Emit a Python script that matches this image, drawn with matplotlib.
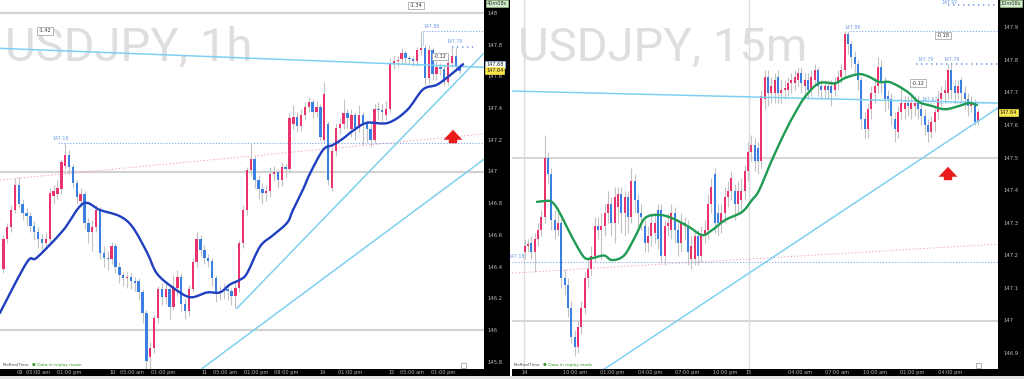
import matplotlib
matplotlib.use("Agg")
import numpy as np
import matplotlib.pyplot as plt
import matplotlib.transforms as mtransforms
from matplotlib.patches import Rectangle, PathPatch
from matplotlib.path import Path

# ---------------- data: USDJPY 1h (left panel) ----------------
h1_open = [146.39, 146.58, 146.65, 146.76, 146.92, 146.80, 146.74, 146.72, 146.66, 146.62,
           146.58, 146.55, 146.58, 146.85, 146.86, 146.89, 147.04, 147.11, 147.03, 146.93,
           146.82, 146.86, 146.68, 146.62, 146.65, 146.76, 146.49, 146.46, 146.45, 146.53,
           146.40, 146.35, 146.33, 146.34, 146.31, 146.31, 146.24, 146.11, 145.83, 145.89,
           146.08, 146.26, 146.21, 146.26, 146.15, 146.27, 146.34, 146.17, 146.12, 146.26,
           146.43, 146.58, 146.51, 146.46, 146.44, 146.33, 146.24, 146.25, 146.26, 146.25,
           146.22, 146.27, 146.55, 146.76, 147.01, 147.08, 146.95, 146.89, 146.87, 146.88,
           146.99, 147.00, 146.95, 147.03, 147.02, 147.30, 147.35, 147.29, 147.36, 147.41,
           147.44, 147.38, 147.41, 147.20, 147.30, 146.90, 147.13, 147.28, 147.30, 147.37,
           147.27, 147.36, 147.28, 147.36, 147.30, 147.27, 147.20, 147.40, 147.39, 147.36,
           147.40, 147.69, 147.70, 147.71, 147.75, 147.72, 147.71, 147.70, 147.77, 147.78,
           147.59, 147.77, 147.62, 147.66, 147.65, 147.57, 147.69, 147.73, 147.67]
h1_close = [146.58, 146.65, 146.76, 146.92, 146.80, 146.74, 146.72, 146.66, 146.62, 146.58,
            146.55, 146.58, 146.87, 146.88, 146.90, 147.06, 147.11, 147.03, 146.93, 146.84,
            146.86, 146.68, 146.62, 146.65, 146.76, 146.49, 146.46, 146.45, 146.53, 146.40,
            146.35, 146.33, 146.34, 146.31, 146.30, 146.24, 146.11, 145.81, 145.89, 146.08,
            146.26, 146.21, 146.26, 146.15, 146.27, 146.34, 146.17, 146.12, 146.26, 146.43,
            146.58, 146.51, 146.46, 146.44, 146.33, 146.24, 146.25, 146.26, 146.25, 146.22,
            146.27, 146.55, 146.76, 147.01, 147.08, 146.95, 146.89, 146.87, 146.88, 146.99,
            147.00, 146.95, 147.03, 147.02, 147.34, 147.35, 147.29, 147.36, 147.41, 147.44,
            147.38, 147.41, 147.22, 147.49, 146.95, 147.13, 147.28, 147.30, 147.37, 147.34,
            147.36, 147.28, 147.36, 147.30, 147.27, 147.20, 147.40, 147.39, 147.38, 147.40,
            147.69, 147.70, 147.70, 147.75, 147.72, 147.71, 147.70, 147.77, 147.78, 147.59,
            147.77, 147.62, 147.66, 147.65, 147.57, 147.69, 147.73, 147.67, 147.64]
h1_high = [146.60, 146.68, 146.79, 146.96, 146.97, 146.83, 146.77, 146.75, 146.69, 146.65,
           146.61, 146.62, 146.90, 146.92, 146.95, 147.08, 147.18, 147.14, 147.05, 146.95,
           146.90, 146.88, 146.71, 146.70, 146.79, 146.78, 146.53, 146.50, 146.56, 146.55,
           146.43, 146.37, 146.37, 146.36, 146.34, 146.33, 146.26, 146.13, 145.93, 146.10,
           146.28, 146.30, 146.31, 146.28, 146.35, 146.38, 146.36, 146.20, 146.29, 146.46,
           146.62, 146.60, 146.54, 146.48, 146.46, 146.35, 146.28, 146.30, 146.29, 146.27,
           146.31, 146.57, 146.79, 147.03, 147.18, 147.10, 146.98, 146.93, 146.92, 147.03,
           147.04, 147.02, 147.06, 147.05, 147.37, 147.42, 147.38, 147.40, 147.44, 147.47,
           147.46, 147.45, 147.43, 147.57, 147.32, 147.16, 147.31, 147.34, 147.46, 147.40,
           147.40, 147.38, 147.42, 147.38, 147.33, 147.30, 147.43, 147.44, 147.43, 147.45,
           147.72, 147.74, 147.73, 147.78, 147.77, 147.74, 147.73, 147.79, 147.89, 147.80,
           147.80, 147.79, 147.70, 147.69, 147.68, 147.72, 147.79, 147.79, 147.69]
h1_low = [146.36, 146.55, 146.62, 146.74, 146.78, 146.70, 146.66, 146.62, 146.57, 146.52,
          146.50, 146.52, 146.56, 146.80, 146.83, 146.86, 147.02, 146.99, 146.90, 146.80,
          146.78, 146.64, 146.55, 146.50, 146.62, 146.45, 146.40, 146.38, 146.42, 146.36,
          146.30, 146.28, 146.27, 146.26, 146.25, 146.19, 146.05, 145.76, 145.76, 145.86,
          146.05, 146.16, 146.17, 146.07, 146.13, 146.22, 146.12, 146.07, 146.09, 146.24,
          146.40, 146.47, 146.42, 146.40, 146.28, 146.18, 146.19, 146.20, 146.19, 146.16,
          146.14, 146.24, 146.52, 146.73, 146.98, 146.90, 146.83, 146.80, 146.82, 146.84,
          146.94, 146.90, 146.91, 146.97, 147.00, 147.27, 147.25, 147.26, 147.33, 147.38,
          147.34, 147.35, 147.20, 147.18, 146.92, 146.88, 147.10, 147.24, 147.27, 147.28,
          147.22, 147.20, 147.25, 147.17, 147.18, 147.16, 147.18, 147.33, 147.32, 147.33,
          147.38, 147.65, 147.66, 147.68, 147.68, 147.68, 147.67, 147.67, 147.74, 147.55,
          147.56, 147.58, 147.58, 147.61, 147.54, 147.55, 147.66, 147.64, 147.62]
# moving average read at key points (bar index, price)
h1_ma_x = [-0.9, 6.1, 8.7, 15.4, 20.6, 25.0, 30.2, 33.5, 37.2, 39.7, 43.9, 48.3, 52.7, 56.0,
           58.6, 61.2, 63.0, 66.4, 69.7, 73.4, 74.9, 77.5, 79.3, 82.7, 85.2, 87.8, 90.4, 94.0,
           99.5, 104.4, 108.5, 112.1, 115.5, 118.9]
h1_ma_y = [146.11, 146.43, 146.46, 146.63, 146.80, 146.76, 146.72, 146.65, 146.49, 146.36,
           146.27, 146.21, 146.24, 146.24, 146.29, 146.32, 146.36, 146.53, 146.60, 146.68,
           146.76, 146.89, 146.99, 147.14, 147.17, 147.21, 147.26, 147.31, 147.31, 147.39,
           147.52, 147.55, 147.61, 147.68]
h1_ticks = [148.0, 147.8, 147.6, 147.4, 147.2, 147.0, 146.8, 146.6, 146.4, 146.2, 146.0, 145.8]
h1_tick_labels = ["148", "147.8", "147.6", "147.4", "147.2", "147", "146.8", "146.6",
                  "146.4", "146.2", "146", "145.8"]
h1_time_pos = [4.2, 9.0, 17.1, 28.2, 33.3, 41.3, 52.0, 57.3, 65.3, 73.2, 82.5, 89.6,
               100.4, 105.7, 113.8]
h1_time_labels = ["09", "05:00 am", "01:00 pm", "10", "05:00 am", "01:00 pm", "11",
                  "05:00 am", "01:00 pm", "09:00 pm", "14", "01:00 pm", "15", "05:00 am",
                  "01:00 pm"]

# ---------------- data: USDJPY 15m (right panel) ----------------
m15_open = [147.21, 147.23, 147.24, 147.21, 147.25, 147.28, 147.32, 147.50, 147.45, 147.31,
            147.28, 147.30, 147.13, 147.11, 147.04, 146.95, 146.92, 146.98, 147.04, 147.13,
            147.16, 147.20, 147.29, 147.28, 147.29, 147.33, 147.36, 147.30, 147.35, 147.39,
            147.33, 147.38, 147.32, 147.43, 147.37, 147.33, 147.29, 147.24, 147.26, 147.27,
            147.34, 147.34, 147.20, 147.29, 147.28, 147.33, 147.28, 147.24, 147.30, 147.29,
            147.19, 147.19, 147.26, 147.20, 147.26, 147.28, 147.36, 147.45, 147.33, 147.30,
            147.33, 147.38, 147.40, 147.40, 147.36, 147.37, 147.40, 147.46, 147.52, 147.54,
            147.53, 147.49, 147.68, 147.75, 147.70, 147.70, 147.75, 147.70, 147.71, 147.71,
            147.73, 147.73, 147.74, 147.76, 147.72, 147.74, 147.71, 147.74, 147.77, 147.72,
            147.71, 147.72, 147.72, 147.71, 147.73, 147.75, 147.77, 147.88, 147.85, 147.81,
            147.79, 147.74, 147.62, 147.59, 147.65, 147.70, 147.72, 147.78, 147.73, 147.69,
            147.68, 147.62, 147.58, 147.64, 147.65, 147.67, 147.65, 147.66, 147.67, 147.65,
            147.63, 147.60, 147.58, 147.61, 147.64, 147.68, 147.70, 147.70, 147.77, 147.72,
            147.70, 147.74, 147.70, 147.68, 147.66, 147.67, 147.61]
m15_close = [147.23, 147.23, 147.21, 147.25, 147.28, 147.32, 147.50, 147.45, 147.31, 147.28,
             147.30, 147.13, 147.11, 147.04, 146.95, 146.92, 146.98, 147.04, 147.13, 147.16,
             147.20, 147.29, 147.28, 147.29, 147.33, 147.36, 147.30, 147.38, 147.39, 147.33,
             147.38, 147.32, 147.43, 147.37, 147.33, 147.32, 147.24, 147.26, 147.30, 147.30,
             147.25, 147.20, 147.29, 147.30, 147.33, 147.28, 147.24, 147.30, 147.29, 147.21,
             147.23, 147.26, 147.20, 147.26, 147.28, 147.36, 147.41, 147.30, 147.30, 147.33,
             147.38, 147.40, 147.44, 147.36, 147.40, 147.40, 147.46, 147.52, 147.54, 147.49,
             147.49, 147.69, 147.75, 147.70, 147.72, 147.74, 147.70, 147.71, 147.71, 147.73,
             147.74, 147.75, 147.76, 147.73, 147.74, 147.71, 147.75, 147.77, 147.72, 147.71,
             147.72, 147.71, 147.70, 147.73, 147.75, 147.77, 147.88, 147.85, 147.81, 147.79,
             147.74, 147.62, 147.59, 147.65, 147.70, 147.72, 147.78, 147.73, 147.68, 147.68,
             147.63, 147.59, 147.64, 147.67, 147.67, 147.66, 147.67, 147.67, 147.65, 147.63,
             147.60, 147.58, 147.61, 147.64, 147.68, 147.70, 147.71, 147.77, 147.71, 147.70,
             147.72, 147.70, 147.68, 147.66, 147.67, 147.61, 147.64]
m15_high = [147.25, 147.25, 147.26, 147.27, 147.30, 147.34, 147.57, 147.52, 147.47, 147.34,
            147.33, 147.32, 147.16, 147.13, 147.06, 146.97, 147.00, 147.06, 147.15, 147.19,
            147.23, 147.32, 147.32, 147.33, 147.36, 147.40, 147.38, 147.41, 147.41, 147.41,
            147.40, 147.40, 147.47, 147.45, 147.39, 147.36, 147.31, 147.29, 147.33, 147.33,
            147.36, 147.36, 147.31, 147.33, 147.36, 147.35, 147.30, 147.33, 147.32, 147.31,
            147.26, 147.28, 147.28, 147.29, 147.31, 147.39, 147.44, 147.47, 147.36, 147.36,
            147.41, 147.43, 147.46, 147.42, 147.43, 147.44, 147.48, 147.55, 147.57, 147.56,
            147.55, 147.71, 147.77, 147.77, 147.75, 147.76, 147.77, 147.74, 147.74, 147.75,
            147.76, 147.77, 147.78, 147.78, 147.76, 147.76, 147.77, 147.79, 147.78, 147.74,
            147.74, 147.74, 147.74, 147.75, 147.77, 147.79, 147.89, 147.89, 147.86, 147.83,
            147.80, 147.75, 147.64, 147.67, 147.72, 147.75, 147.81, 147.80, 147.75, 147.71,
            147.70, 147.64, 147.66, 147.72, 147.69, 147.69, 147.70, 147.69, 147.69, 147.67,
            147.65, 147.62, 147.63, 147.66, 147.71, 147.72, 147.74, 147.79, 147.79, 147.74,
            147.74, 147.75, 147.72, 147.70, 147.69, 147.68, 147.65]
m15_low = [147.19, 147.21, 147.19, 147.15, 147.23, 147.26, 147.30, 147.42, 147.28, 147.25,
           147.26, 147.10, 147.08, 147.01, 146.93, 146.89, 146.90, 146.96, 147.02, 147.10,
           147.14, 147.18, 147.25, 147.19, 147.26, 147.30, 147.26, 147.24, 147.30, 147.27,
           147.26, 147.27, 147.30, 147.33, 147.29, 147.28, 147.21, 147.21, 147.23, 147.24,
           147.22, 147.18, 147.17, 147.26, 147.25, 147.24, 147.20, 147.21, 147.25, 147.17,
           147.16, 147.17, 147.17, 147.18, 147.24, 147.25, 147.33, 147.27, 147.26, 147.27,
           147.30, 147.35, 147.37, 147.31, 147.33, 147.34, 147.37, 147.43, 147.49, 147.46,
           147.45, 147.47, 147.65, 147.66, 147.67, 147.67, 147.67, 147.67, 147.68, 147.69,
           147.70, 147.71, 147.72, 147.70, 147.69, 147.68, 147.69, 147.72, 147.69, 147.68,
           147.68, 147.68, 147.66, 147.69, 147.71, 147.73, 147.75, 147.82, 147.78, 147.76,
           147.71, 147.59, 147.56, 147.56, 147.62, 147.67, 147.70, 147.70, 147.64, 147.65,
           147.60, 147.55, 147.56, 147.62, 147.62, 147.63, 147.62, 147.63, 147.62, 147.60,
           147.57, 147.55, 147.56, 147.58, 147.62, 147.66, 147.67, 147.68, 147.68, 147.67,
           147.68, 147.67, 147.65, 147.63, 147.64, 147.60, 147.60]
m15_ma_x = [3.7, 7.3, 9.1, 11.2, 14.2, 17.8, 20.2, 23.8, 26.2, 29.8, 33.1, 36.1, 40.3, 44.2,
            49.3, 53.2, 56.2, 60.1, 65.2, 68.2, 70.3, 74.2, 78.1, 81.1, 84.1, 88.3, 93.1, 96.1,
            100.3, 103.3, 106.3, 109.3, 112.3, 115.3, 118.3, 122.2, 126.1, 130.3, 133.3, 135.7]
m15_ma_y = [147.365, 147.368, 147.355, 147.318, 147.257, 147.195, 147.192, 147.20, 147.186,
            147.20, 147.257, 147.315, 147.325, 147.315, 147.288, 147.263, 147.278, 147.309,
            147.334, 147.371, 147.40, 147.494, 147.58, 147.638, 147.688, 147.73, 147.73,
            147.746, 147.758, 147.75, 147.734, 147.734, 147.72, 147.70, 147.672, 147.66,
            147.65, 147.66, 147.669, 147.663]
m15_ticks = [147.9, 147.8, 147.7, 147.6, 147.5, 147.4, 147.3, 147.2, 147.1, 147.0, 146.9]
m15_tick_labels = ["147.9", "147.8", "147.7", "147.6", "147.5", "147.4", "147.3", "147.2",
                   "147.1", "147", "146.9"]
m15_time_pos = [-0.05, 15.1, 26.2, 37.6, 48.7, 60.1, 67.3, 82.5, 93.7, 105.1, 116.3, 127.5]
m15_time_labels = ["14", "10:00 am", "01:00 pm", "04:00 pm", "07:00 pm", "10:00 pm", "15",
                   "04:00 am", "07:00 am", "10:00 am", "01:00 pm", "04:00 pm"]

UP = "#e8336d"
DOWN = "#3b7fe3"
WICK = "#c2c2c2"
TREND = "#7fd0f0"
LEVEL = "#d2d2d2"
DOTBLUE = "#6d9ce6"
DOTPINK = "#f2a7bf"
AXTXT = "#bdbdbd"

W, H = 1024, 379
fig = plt.figure(figsize=(W / 100, H / 100), dpi=100)
fig.patch.set_facecolor("white")


def px_axes(x0, y0, x1, y1):
    return fig.add_axes([x0 / W, 1 - y1 / H, (x1 - x0) / W, (y1 - y0) / H])


def fig_rect(x0, y0, x1, y1, color):
    # zorder below the axes so the scale labels drawn by the axes stay on top
    fig.patches.append(Rectangle((x0 / W, 1 - y1 / H), (x1 - x0) / W, (y1 - y0) / H,
                                 transform=fig.transFigure, color=color, lw=0, zorder=-1))


def draw_candles(ax, o, h, l, c, min_body):
    o, h, l, c = map(np.asarray, (o, h, l, c))
    x = np.arange(len(o))
    ax.vlines(x, l, h, color=WICK, lw=0.8, zorder=3)
    bottom = np.minimum(o, c)
    height = np.maximum(np.abs(c - o), min_body)
    colors = [UP if cc >= oo else DOWN for oo, cc in zip(o, c)]
    ax.bar(x, height, bottom=bottom, width=0.62, color=colors, lw=0, zorder=4)


def smooth_line(ax, xs, ys, color):
    # Catmull-Rom curve through the read points, drawn as cubic Bezier pieces
    p = np.column_stack([xs, ys])
    p = np.vstack([p[0], p, p[-1]])
    verts = [tuple(p[1])]
    codes = [Path.MOVETO]
    for i in range(1, len(p) - 2):
        c1 = p[i] + (p[i + 1] - p[i - 1]) / 6
        c2 = p[i + 1] - (p[i + 2] - p[i]) / 6
        verts += [tuple(c1), tuple(c2), tuple(p[i + 1])]
        codes += [Path.CURVE4] * 3
    ax.add_patch(PathPatch(Path(verts, codes), fill=False, ec=color, lw=1.7, zorder=6,
                           capstyle="round", joinstyle="round"))


def price_axis(ax, ticks, labels, xoff):
    tr = mtransforms.blended_transform_factory(ax.transAxes, ax.transData)
    for v, s in zip(ticks, labels):
        ax.text(xoff, v, s, transform=tr, fontsize=3.8, color=AXTXT, va="center",
                ha="left", clip_on=False, zorder=9)


def time_axis(ax, pos, labels):
    tr = mtransforms.blended_transform_factory(ax.transData, ax.transAxes)
    for p, s in zip(pos, labels):
        ax.text(p, -0.0105, s, transform=tr, fontsize=3.6, color=AXTXT, va="center",
                ha="center", clip_on=False, zorder=9)


def box(ax, x, y, s, fc="white", ec="#9a9a9a", fs=3.6, color="#333333"):
    ax.text(x, y, s, fontsize=fs, color=color, ha="center", va="center", zorder=8,
            bbox=dict(boxstyle="square,pad=0.25", fc=fc, ec=ec, lw=0.5))


def small(ax, x, y, s):
    ax.text(x, y, s, fontsize=3.3, color=DOTBLUE, ha="center", va="bottom", zorder=8)


def red_arrow(ax, xa, y0, y1):
    ax.annotate("", xy=(xa, y1), xytext=(xa, y0), xycoords="axes fraction",
                arrowprops=dict(arrowstyle="simple,head_length=0.9,head_width=1.7,tail_width=0.75",
                                color="#ea1c1c", lw=0, mutation_scale=8), zorder=9)


# black frames (price scale on the right, time scale at the bottom)
fig_rect(484, 0, 510, 376, "black")
fig_rect(0, 369, 510, 376, "black")
fig_rect(998, 0, 1024, 376, "black")
fig_rect(512, 369, 1024, 376, "black")
fig_rect(0, 376, 1024, 379, "#e4e4e4")

# ======================= left panel =======================
ax = px_axes(0, 0, 484, 369)
ax.set_xlim(-0.86, 124.3)
ax.set_ylim(145.757, 148.085)
ax.set_axis_off()

ax.text(0.010, 1 - 60 / 369, "USDJPY, 1h", transform=ax.transAxes, fontsize=34,
        family="Roboto", color="#dedede", va="baseline", ha="left", zorder=1)

for lv in (148.0, 147.0, 146.0):
    ax.axhline(lv, color=LEVEL, lw=1.6, zorder=1)
ax.plot([-0.86, 124.3], [146.95, 147.24], color=DOTPINK, lw=0.7, ls=(0, (1.5, 2)), zorder=2)
ax.plot([14.1, 124.3], [147.18, 147.18], color=DOTBLUE, lw=0.6, ls=(0, (1.5, 2)), zorder=2)
ax.plot([108.5, 124.3], [147.89, 147.89], color=DOTBLUE, lw=0.6, ls=(0, (1.5, 2)), zorder=2)
ax.plot([108.5, 108.5], [147.80, 147.89], color="#b0c8ee", lw=0.6, zorder=2)
ax.plot([116.0, 121.5], [147.79, 147.79], color=DOTBLUE, lw=1.2, ls=(0, (0.8, 2.2)), zorder=2)

draw_candles(ax, h1_open, h1_high, h1_low, h1_close, 0.008)
smooth_line(ax, h1_ma_x, h1_ma_y, "#1f3fbf")

ax.plot([-0.86, 124.3], [147.78, 147.66], color=TREND, lw=1.1, zorder=5)
ax.plot([60.4, 124.3], [146.14, 147.75], color=TREND, lw=1.1, zorder=5)
ax.plot([51.4, 124.3], [145.76, 147.08], color=TREND, lw=1.1, zorder=5)

small(ax, 14.8, 147.195, "147.18")
small(ax, 110.8, 147.905, "147.89")
small(ax, 116.8, 147.805, "147.79")
box(ax, 10.8, 147.89, "-1.42")
box(ax, 106.7, 148.05, "-1.34")
box(ax, 112.9, 147.73, "-0.12")
red_arrow(ax, 453 / 484, 1 - 146 / 369, 1 - 127 / 369)

price_axis(ax, h1_ticks, h1_tick_labels, 487 / 484)
time_axis(ax, h1_time_pos, h1_time_labels)
tr = mtransforms.blended_transform_factory(ax.transAxes, ax.transData)
ax.text(486 / 484, 147.68, "147.68", transform=tr, fontsize=3.6, color="#222222",
        va="center", ha="left", clip_on=False, zorder=10,
        bbox=dict(boxstyle="square,pad=0.2", fc="white", ec="#8fb4e8", lw=0.5))
ax.text(486 / 484, 147.64, "147.64", transform=tr, fontsize=3.6, color="#222222",
        va="center", ha="left", clip_on=False, zorder=10,
        bbox=dict(boxstyle="square,pad=0.2", fc="#f7e34a", ec="#f7e34a", lw=0.5))

# ======================= right panel =======================
ax2 = px_axes(512, 0, 998, 369)
ax2.set_xlim(-3.8, 142.0)
ax2.set_ylim(146.851, 147.986)
ax2.set_axis_off()

ax2.text(0.012, 1 - 60 / 369, "USDJPY, 15m", transform=ax2.transAxes, fontsize=34,
         family="Roboto", color="#dedede", va="baseline", ha="left", zorder=1)

for lv in (147.5, 147.0):
    ax2.axhline(lv, color=LEVEL, lw=1.3, zorder=1)
for vx in (-0.2, 67.3):
    ax2.axvline(vx, color="#dcdcdc", lw=1.0, zorder=1)
ax2.plot([-3.8, 142.0], [147.146, 147.235], color=DOTPINK, lw=0.7, ls=(0, (1.5, 2)), zorder=2)
ax2.plot([-3.8, 142.0], [147.18, 147.18], color=DOTBLUE, lw=0.6, ls=(0, (1.5, 2)), zorder=2)
ax2.plot([97.5, 142.0], [147.89, 147.89], color=DOTBLUE, lw=0.6, ls=(0, (1.5, 2)), zorder=2)
ax2.plot([127.0, 142.0], [147.97, 147.97], color=DOTBLUE, lw=1.2, ls=(0, (0.8, 2.2)), zorder=2)
ax2.plot([117.5, 142.0], [147.79, 147.79], color=DOTBLUE, lw=1.2, ls=(0, (0.8, 2.2)), zorder=2)
ax2.plot([113.0, 142.0], [147.67, 147.67], color="#b9cdee", lw=0.6, ls=(0, (1.5, 2)), zorder=2)

draw_candles(ax2, m15_open, m15_high, m15_low, m15_close, 0.004)
smooth_line(ax2, m15_ma_x, m15_ma_y, "#1f9a52")

ax2.plot([-3.8, 142.0], [147.706, 147.669], color=TREND, lw=1.1, zorder=5)
ax2.plot([23.8, 142.0], [146.85, 147.654], color=TREND, lw=1.1, zorder=5)

small(ax2, -2.3, 147.19, "147.18")
small(ax2, 98.3, 147.895, "147.89")
small(ax2, 127.6, 147.972, "147.97")
small(ax2, 120.4, 147.795, "147.79")
small(ax2, 128.2, 147.795, "147.79")
small(ax2, 121.6, 147.672, "147.67")
box(ax2, 125.5, 147.877, "-0.18")
box(ax2, 118.0, 147.73, "-0.12")
red_arrow(ax2, (948 - 512) / 486, 1 - 183 / 369, 1 - 164 / 369)

price_axis(ax2, m15_ticks, m15_tick_labels, 1 + 5 / 486)
time_axis(ax2, m15_time_pos, m15_time_labels)
tr2 = mtransforms.blended_transform_factory(ax2.transAxes, ax2.transData)
ax2.text(1 + 2 / 486, 147.64, "147.64", transform=tr2, fontsize=3.6, color="#222222",
         va="center", ha="left", clip_on=False, zorder=10,
         bbox=dict(boxstyle="square,pad=0.2", fc="#f7e34a", ec="#f7e34a", lw=0.5))

# corner timers and footer notes
for xx, s in ((497, "40m08s"), (1011, "10m08s")):
    fig.text(xx / W, 1 - 3.5 / H, s, fontsize=3.6, color="#333333", ha="center", va="center",
             bbox=dict(boxstyle="square,pad=0.2", fc="#d3ecc9", ec="#a9d39a", lw=0.4))
for xx in (3, 514):
    fig.text(xx / W, 1 - 365 / H, "ProRealTime", fontsize=3.2, color="#555555",
             ha="left", va="center")
    fig.text((xx + 29) / W, 1 - 365 / H, "\u25cf Data in replay mode", fontsize=3.2,
             color="#3c9a2c", ha="left", va="center")
for xx in (463, 978):
    fig.patches.append(Rectangle(((xx - 2.5) / W, 1 - 367.5 / H), 5 / W, 5 / H,
                                 transform=fig.transFigure, fc="white", ec="#999999",
                                 lw=0.5, zorder=5))

fig.savefig("out.png", dpi=100, facecolor="white")
